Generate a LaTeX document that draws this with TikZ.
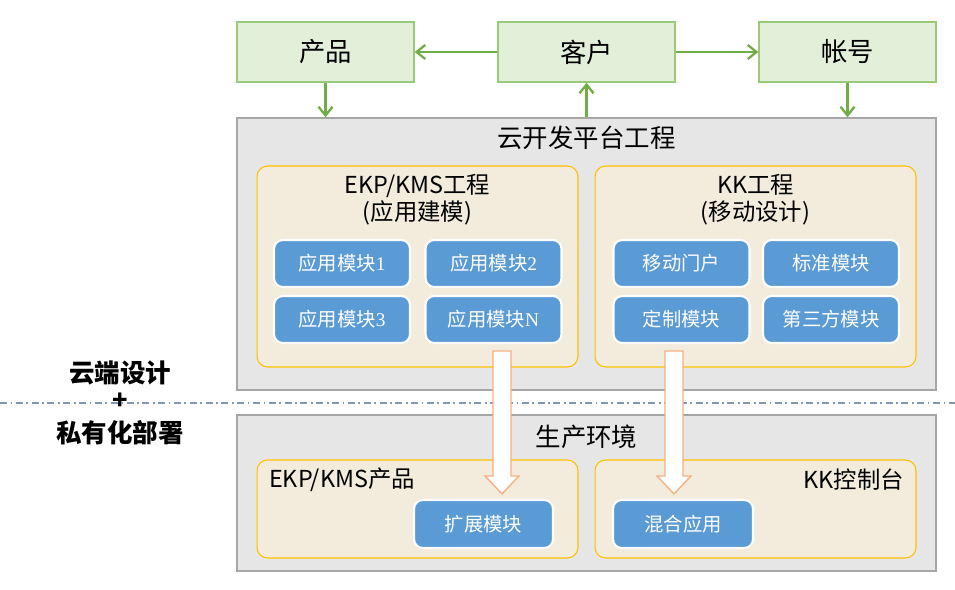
\documentclass[tikz,border=0pt]{standalone}
\usepackage{fontspec}
\setmainfont{Noto Sans CJK SC}
\newfontfamily\numfont{Liberation Serif}
\usetikzlibrary{arrows.meta,positioning,calc}
\definecolor{gfill}{HTML}{E2F0D9}
\definecolor{gline}{HTML}{9BC97C}
\definecolor{garrow}{HTML}{70AD47}
\definecolor{pfill}{HTML}{E6E6E6}
\definecolor{pline}{HTML}{A6A6A6}
\definecolor{cream}{HTML}{F3ECDC}
\definecolor{gold}{HTML}{FFC000}
\definecolor{blu}{HTML}{5B9BD5}
\definecolor{orng}{HTML}{F4B183}
\definecolor{dashc}{HTML}{8497B0}

% hollow down arrow between two points (shaft, then head)
\newcommand{\hollowdown}[2]{%
  \draw[blk] ($(#1)+(-9,0)$) -- ($(#2)+(-9,-18)$) -- ($(#2)+(-17,-18)$) -- (#2)
    -- ($(#2)+(17,-18)$) -- ($(#2)+(9,-18)$) -- ($(#1)+(9,0)$) -- cycle;}

\begin{document}
\begin{tikzpicture}[
  x=0.02cm, y=-0.02cm,
  top/.style={draw=gline, fill=gfill, line width=0.8pt, minimum width=3.54cm, minimum height=1.2cm, font=\fontsize{15}{17}\selectfont},
  plat/.style={draw=pline, fill=pfill, line width=0.8pt, minimum width=13.98cm},
  grp/.style={draw=gold, fill=cream, line width=0.6pt, rounded corners=6pt, minimum width=6.42cm},
  mod/.style={draw=white, fill=blu, line width=1.2pt, rounded corners=5pt, minimum width=2.72cm, minimum height=0.94cm, text=white, font=\fontsize{11}{13}\selectfont},
  title/.style={font=\fontsize{14.5}{16}\selectfont},
  sub/.style={font=\fontsize{13.3}{15.5}\selectfont, align=center},
  garr/.style={-{Straight Barb[length=5pt,width=8pt]}, draw=garrow, line width=1.3pt},
  blk/.style={draw=orng, fill=white, line width=0.8pt, line join=miter},
  side/.style={font=\fontsize{14.5}{16}\selectfont\bfseries},
]
\useasboundingbox (0,0) rectangle (955,590);

% top row
\node[top] (prod) at (325.5,52) {产品};
\node[top] (cust) at (586.5,52) {客户};
\node[top] (acct) at (847.5,52) {帐号};

% cloud platform
\node[plat, minimum height=5.44cm] (cloud) at (586.5,254) {};
\node[title] (cloudt) at (586.5,138) {云开发平台工程};
\node[grp, minimum height=4.02cm] (ekp) at (417.5,266.5) {};
\node[grp, minimum height=4.02cm] (kk) at (755.5,266.5) {};
\node[sub] (ekpt) at (417.5,200) {EKP/KMS工程\\(应用建模)};
\node[sub] (kkt) at (755.5,200) {KK工程\\(移动设计)};

\node[mod] (m1) at (342,263.5) {应用模块{\numfont 1}};
\node[mod] (m2) at (493.5,263.5) {应用模块{\numfont 2}};
\node[mod] (m3) at (342,319.5) {应用模块{\numfont 3}};
\node[mod] (mN) at (493.5,319.5) {应用模块{\numfont N}};
\node[mod] (k1) at (681.5,263.5) {移动门户};
\node[mod] (k2) at (831,263.5) {标准模块};
\node[mod] (k3) at (681.5,319.5) {定制模块};
\node[mod] (k4) at (831,319.5) {第三方模块};

% production
\node[plat, minimum height=3.12cm] (env) at (586.5,493) {};
\node[title] (envt) at (586.5,437) {生产环境};
\node[grp, minimum height=1.96cm] (ekpp) at (417.5,509) {};
\node[grp, minimum height=1.96cm] (kkc) at (755.5,509) {};
\node[font=\fontsize{13.3}{15}\selectfont, anchor=west] (ekppt) at (263,480) {EKP/KMS产品};
\node[font=\fontsize{13.3}{15}\selectfont, anchor=east] (kkct) at (910,480) {KK控制台};
\node[mod, minimum width=2.78cm, minimum height=0.96cm] (ext) at (483.5,524) {扩展模块};
\node[mod, minimum width=2.8cm, minimum height=0.96cm] (mix) at (683,524) {混合应用};

% left caption
\node[side] (c1) at (120,373) {云端设计};
\node[side] (c2) at (120,401) {+};
\node[side] (c3) at (120,433) {私有化部署};

% connectors
\draw[garr] (cust.west) -- (prod.east);
\draw[garr] (cust.east) -- (acct.west);
\draw[garr] (prod.south) -- (prod.south |- cloud.north);
\draw[garr] (acct.south) -- (acct.south |- cloud.north);
\draw[garr] (cust.south |- cloud.north) -- (cust.south);

\coordinate (dl) at (0,403);
\coordinate (dr) at (955,403);
\draw[dashc, line width=0.6pt, dash pattern=on 4pt off 2pt on 1pt off 2pt] (dl) -- (dr);

\coordinate (a1s) at (502,351);
\coordinate (a1e) at (502,494);
\coordinate (a2s) at (674,351);
\coordinate (a2e) at (674,494);
\hollowdown{a1s}{a1e}
\hollowdown{a2s}{a2e}
\end{tikzpicture}
\end{document}
